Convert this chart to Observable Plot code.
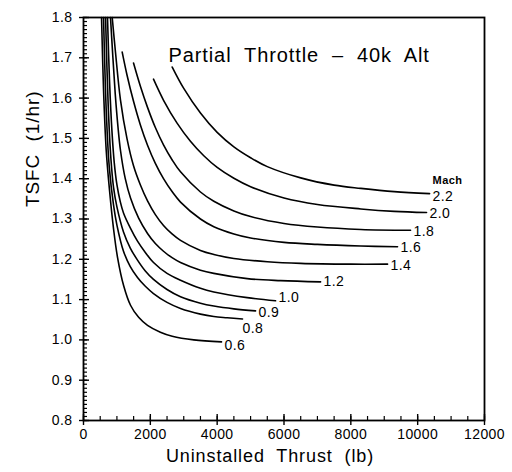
<!DOCTYPE html>
<html><head><meta charset="utf-8">
<script src="https://cdn.jsdelivr.net/npm/d3@7"></script>
<script src="https://cdn.jsdelivr.net/npm/@observablehq/plot@0.6"></script>
<style>body{margin:0;background:#fff} svg{display:block}</style>
</head><body><div id="chart"></div>
<script>
// Curves: [uninstalled thrust (lb), TSFC (1/hr)]
const m06 = [[540,1.80],[600,1.62],[680,1.47],[780,1.37],[900,1.275],[1018,1.205],[1200,1.135],[1407,1.086],[1650,1.056],[1916,1.036],[2300,1.019],[2655,1.009],[3300,1.0],[4130,0.995]];
const m08 = [[600,1.80],[680,1.57],[770,1.43],[898,1.335],[1000,1.285],[1197,1.22],[1400,1.182],[1616,1.155],[1850,1.133],[2095,1.115],[2500,1.093],[2903,1.078],[3500,1.064],[3900,1.058],[4300,1.055],[4759,1.052]];
const m09 = [[660,1.80],[740,1.58],[820,1.45],[898,1.379],[1000,1.33],[1197,1.268],[1400,1.228],[1616,1.198],[1850,1.171],[2095,1.15],[2500,1.125],[2903,1.107],[3500,1.091],[3900,1.084],[4500,1.077],[5148,1.072]];
const m10 = [[718,1.80],[780,1.64],[850,1.52],[920,1.44],[1000,1.385],[1100,1.343],[1197,1.315],[1400,1.278],[1616,1.245],[1850,1.217],[2095,1.192],[2500,1.165],[2903,1.148],[3500,1.128],[3900,1.119],[4900,1.105],[5747,1.097]];
const m12 = [[808,1.80],[880,1.70],[950,1.61],[1030,1.53],[1107,1.47],[1250,1.40],[1407,1.352],[1650,1.302],[1916,1.264],[2150,1.239],[2394,1.22],[2650,1.204],[2903,1.192],[3500,1.173],[3900,1.165],[4900,1.152],[5900,1.147],[7094,1.144]];
const m14 = [[859,1.80],[950,1.72],[1107,1.595],[1300,1.50],[1497,1.432],[1700,1.385],[1916,1.345],[2150,1.311],[2394,1.284],[2650,1.263],[2903,1.247],[3500,1.222],[3900,1.212],[4500,1.202],[5500,1.194],[6500,1.19],[8000,1.188],[9099,1.188]];
const m16 = [[1158,1.714],[1300,1.658],[1497,1.592],[1700,1.534],[1916,1.483],[2150,1.438],[2394,1.40],[2650,1.368],[2903,1.342],[3500,1.30],[3900,1.281],[4500,1.263],[5000,1.253],[6000,1.242],[7000,1.237],[8300,1.233],[9398,1.231]];
const m18 = [[1497,1.687],[1700,1.63],[1916,1.577],[2150,1.527],[2394,1.484],[2650,1.447],[2903,1.417],[3500,1.367],[3900,1.344],[4500,1.32],[5000,1.306],[6000,1.289],[7000,1.28],[8300,1.274],[9787,1.272]];
const m20 = [[2095,1.647],[2400,1.594],[2800,1.538],[3200,1.493],[3600,1.457],[4000,1.428],[4500,1.401],[5000,1.38],[6000,1.352],[7000,1.336],[8300,1.325],[9300,1.319],[10266,1.316]];
const m22 = [[2655,1.677],[3000,1.624],[3500,1.563],[4000,1.515],[4500,1.479],[5000,1.452],[5500,1.43],[6500,1.402],[7500,1.384],[8300,1.376],[9300,1.368],[10356,1.363]];

const machLabels = ["0.6","0.8","0.9","1.0","1.2","1.4","1.6","1.8","2.0","2.2"];
const curves = [m06,m08,m09,m10,m12,m14,m16,m18,m20,m22];

const xMajor = [0,2000,4000,6000,8000,10000,12000];
const xMinor = d3.range(0, 12001, 500);
const yMajor = [0.8,0.9,1.0,1.1,1.2,1.3,1.4,1.5,1.6,1.7,1.8];
const yMinor = d3.range(80, 181).map(v => v / 100);

const titleText = "Partial  Throttle  \u2013  40k  Alt";
const xTitle = "Uninstalled  Thrust  (lb)";
const yTitle = "TSFC  (1/hr)";

const rows = curves.flatMap((c, i) => c.map(([t, s]) => ({mach: machLabels[i], thrust: t, tsfc: s})));
const ends = curves.map((c, i) => ({mach: machLabels[i], thrust: c[c.length-1][0], tsfc: c[c.length-1][1]}));

// label nudges (styling only, in pixels)
const nudgeX = {"0.8": -3};
const nudgeY = {"0.6": 4, "0.8": 10, "0.9": 2, "1.0": -3, "1.2": 0, "2.2": 3};

const W = 512, H = 472, mL = 83, mR = 28, mT = 17, mB = 52;
const pw = W - mL - mR, ph = H - mT - mB;
const font = "'Liberation Sans', Arial, sans-serif";

const labelMarks = ends.map(e => Plot.text([e], {x: "thrust", y: "tsfc", text: "mach",
  dx: 3 + (nudgeX[e.mach] ?? 0), dy: nudgeY[e.mach] ?? 1, textAnchor: "start", fontSize: 14}));

const chart = Plot.plot({
  width: W, height: H,
  marginLeft: mL, marginRight: mR, marginTop: mT, marginBottom: mB,
  style: {fontFamily: font, color: "#000", background: "#fff"},
  x: {domain: [0, 12000]},
  y: {domain: [0.8, 1.8]},
  marks: [
    Plot.ruleX(xMinor, {x: d => d, insetTop: ph - 4, stroke: "#000", strokeWidth: 1.2}),
    Plot.ruleX(xMajor, {x: d => d, insetTop: ph - 6, stroke: "#000", strokeWidth: 1.4}),
    Plot.ruleY(yMinor, {y: d => d, insetRight: pw - 4, stroke: "#000", strokeWidth: 1.2}),
    Plot.ruleY(yMajor, {y: d => d, insetRight: pw - 6, stroke: "#000", strokeWidth: 1.4}),
    Plot.axisX({ticks: xMajor, tickSize: 5, tickPadding: 4, tickFormat: d => String(d), fontSize: 14, label: null, strokeWidth: 1.4}),
    Plot.axisY({ticks: yMajor, tickSize: 4, tickPadding: 7, tickFormat: d => d.toFixed(1), fontSize: 14, label: null, strokeWidth: 1.4}),
    Plot.frame({stroke: "#000", strokeWidth: 1.8}),
    Plot.line(rows, {x: "thrust", y: "tsfc", z: "mach", curve: "catmull-rom", stroke: "#000", strokeWidth: 1.6}),
    ...labelMarks,
    Plot.text(ends.slice(-1), {x: "thrust", y: "tsfc", text: () => "Mach", dx: 3, dy: -13, textAnchor: "start", fontSize: 11, fontWeight: "bold"}),
    Plot.text([titleText], {frameAnchor: "top-left", dx: 85, dy: 30, textAnchor: "start", fontSize: 20}),
    Plot.text([xTitle], {frameAnchor: "bottom", dx: -14, dy: 41, fontSize: 18}),
    Plot.text([yTitle], {frameAnchor: "left", dx: -51, dy: -12, rotate: -90, fontSize: 19})
  ]
});
d3.select(chart).selectAll("text").each(function() {
  const t = this.textContent;
  if (t === titleText || t === xTitle || t === yTitle) this.setAttribute("letter-spacing", "0.9");
  else this.setAttribute("letter-spacing", "0.4");
});
document.getElementById("chart").append(chart);
</script>
</body></html>
